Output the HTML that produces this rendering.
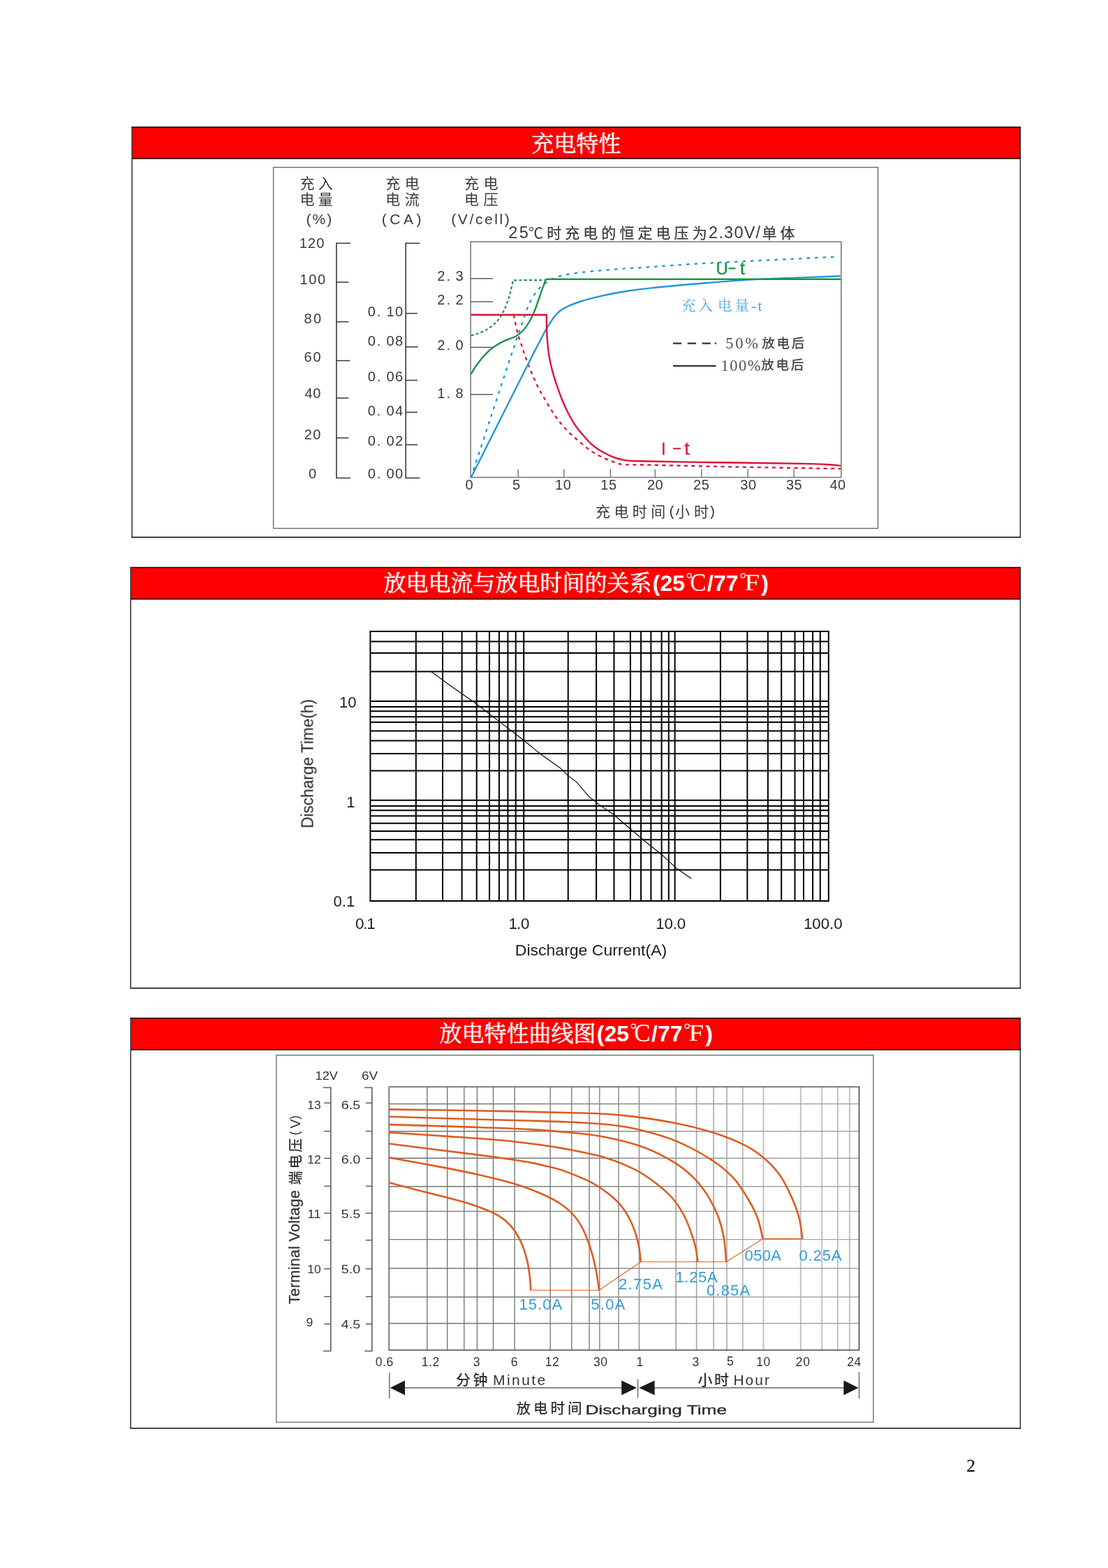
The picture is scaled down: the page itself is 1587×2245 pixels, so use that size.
<!DOCTYPE html>
<html lang="en"><head><meta charset="utf-8"><title>Battery characteristics</title>
<style>html,body{margin:0;padding:0;background:#fff}body{width:1587px;height:2245px;overflow:hidden}svg{display:block;font-family:"Liberation Sans",sans-serif}text{white-space:pre}.cjs{font-family:"Liberation Sans","Noto Sans CJK SC",sans-serif}.cjf{font-family:"Liberation Serif","Noto Serif CJK SC",serif}</style></head>
<body>
<svg width="1587" height="2245" viewBox="0 0 1587 2245">
<defs><filter id="soft" x="0" y="0" width="100%" height="100%" filterUnits="userSpaceOnUse" color-interpolation-filters="sRGB"><feGaussianBlur stdDeviation="0.45"/></filter></defs>
<rect x="189.1" y="182.1" width="1272.3" height="45" fill="#fe0000"/>
<path d="M189.1 182.1V769.3M1461.4 182.1V769.3" fill="none" stroke="#2e2e2e" stroke-width="1.5"/>
<path d="M188.35 182.1H1462.15M188.35 769.3H1462.15M189.1 227.1H1461.4" fill="none" stroke="#0a0a0a" stroke-width="1.5"/>
<rect x="187.2" y="812.4" width="1274.2" height="45.3" fill="#fe0000"/>
<path d="M187.2 812.4V1414.7M1461.4 812.4V1414.7" fill="none" stroke="#2e2e2e" stroke-width="1.5"/>
<path d="M186.45 812.4H1462.15M186.45 1414.7H1462.15M187.2 857.7H1461.4" fill="none" stroke="#0a0a0a" stroke-width="1.5"/>
<rect x="187.2" y="1457.7" width="1274.2" height="45.3" fill="#fe0000"/>
<path d="M187.2 1457.7V2045M1461.4 1457.7V2045" fill="none" stroke="#2e2e2e" stroke-width="1.5"/>
<path d="M186.45 1457.7H1462.15M186.45 2045H1462.15M187.2 1503H1461.4" fill="none" stroke="#0a0a0a" stroke-width="1.5"/>
<text class="cjf" x="761.2" y="217" font-size="32" fill="#fff" stroke="#fff" stroke-width="0.5">充电特性</text>
<text class="cjf" x="549.6" y="845.8" font-size="32" fill="#fff" stroke="#fff" stroke-width="0.5">放电电流与放电时间的关系</text>
<text x="934.8" y="845.8" font-size="32" fill="#fff" font-weight="bold">(25</text>
<circle cx="987.26" cy="824.2" r="3" fill="none" stroke="#fff" stroke-width="1.3"/>
<text x="988.26" y="846.1" font-size="35" fill="#fff" style="font-family:'Liberation Serif',serif">C</text>
<text x="1013.06" y="845.8" font-size="32" fill="#fff" font-weight="bold">/77</text>
<circle cx="1064.16" cy="824.2" r="3" fill="none" stroke="#fff" stroke-width="1.3"/>
<text x="1066.16" y="845.2" font-size="34.5" fill="#fff" style="font-family:'Liberation Serif',serif" textLength="22" lengthAdjust="spacingAndGlyphs">F</text>
<text x="1090.36" y="845.8" font-size="32" fill="#fff" font-weight="bold">)</text>
<text class="cjf" x="629.6" y="1490.8" font-size="32" fill="#fff" stroke="#fff" stroke-width="0.5">放电特性曲线图</text>
<text x="854.8" y="1490.8" font-size="32" fill="#fff" font-weight="bold">(25</text>
<circle cx="907.26" cy="1469.2" r="3" fill="none" stroke="#fff" stroke-width="1.3"/>
<text x="908.26" y="1491.1" font-size="35" fill="#fff" style="font-family:'Liberation Serif',serif">C</text>
<text x="933.06" y="1490.8" font-size="32" fill="#fff" font-weight="bold">/77</text>
<circle cx="984.16" cy="1469.2" r="3" fill="none" stroke="#fff" stroke-width="1.3"/>
<text x="986.16" y="1490.2" font-size="34.5" fill="#fff" style="font-family:'Liberation Serif',serif" textLength="22" lengthAdjust="spacingAndGlyphs">F</text>
<text x="1010.36" y="1490.8" font-size="32" fill="#fff" font-weight="bold">)</text>
<text x="1384.3" y="2107.1" font-size="25.4" fill="#000" style="font-family:'Liberation Serif',serif">2</text>
<g filter="url(#soft)">
<rect x="391.6" y="239.6" width="865.9" height="516.9" fill="none" stroke="#6a6a6a" stroke-width="1.4"/>
<text class="cjs" x="429.5" y="269.6" font-size="21" fill="#3a3a3a" letter-spacing="5.2">充入</text>
<text class="cjs" x="429.5" y="293" font-size="21" fill="#3a3a3a" letter-spacing="5.2">电量</text>
<text x="438.5" y="320.6" font-size="21" fill="#3a3a3a" textLength="36.8" lengthAdjust="spacing">(%)</text>
<text class="cjs" x="552.3" y="269.6" font-size="21" fill="#3a3a3a" letter-spacing="6.5">充电</text>
<text class="cjs" x="552.3" y="293" font-size="21" fill="#3a3a3a" letter-spacing="6.5">电流</text>
<text x="546.7" y="320.6" font-size="21" fill="#3a3a3a" textLength="56.7" lengthAdjust="spacing">(CA)</text>
<text class="cjs" x="665" y="269.6" font-size="21" fill="#3a3a3a" letter-spacing="6.5">充电</text>
<text class="cjs" x="665" y="293" font-size="21" fill="#3a3a3a" letter-spacing="6.5">电压</text>
<text x="646.3" y="320.6" font-size="21" fill="#3a3a3a" textLength="83.4" lengthAdjust="spacing">(V/cell)</text>
<text x="728.3" y="341.4" font-size="23.5" fill="#3a3a3a" textLength="28.6" lengthAdjust="spacing">25</text>
<text class="cjs" x="757" y="340.8" font-size="21" fill="#3a3a3a">℃</text>
<text class="cjs" x="783.2" y="340.8" font-size="21" fill="#3a3a3a" stroke="#3a3a3a" stroke-width="0.25" letter-spacing="5.06">时充电的恒定电压为</text>
<text x="1015.1" y="341.4" font-size="23.5" fill="#3a3a3a" textLength="74" lengthAdjust="spacing">2.30V/</text>
<text class="cjs" x="1091.6" y="340.8" font-size="21" fill="#3a3a3a" stroke="#3a3a3a" stroke-width="0.25" letter-spacing="4.8">单体</text>
<line x1="481.9" y1="347.6" x2="481.9" y2="685.1" stroke="#383838" stroke-width="1.6"/>
<line x1="481.9" y1="348.3" x2="501.9" y2="348.3" stroke="#383838" stroke-width="1.5"/>
<line x1="481.9" y1="404" x2="499.3" y2="404" stroke="#383838" stroke-width="1.5"/>
<line x1="481.9" y1="460.7" x2="499.3" y2="460.7" stroke="#383838" stroke-width="1.5"/>
<line x1="481.9" y1="516.4" x2="501" y2="516.4" stroke="#383838" stroke-width="1.5"/>
<line x1="481.9" y1="569.9" x2="499.3" y2="569.9" stroke="#383838" stroke-width="1.5"/>
<line x1="481.9" y1="627" x2="499.3" y2="627" stroke="#383838" stroke-width="1.5"/>
<line x1="481.9" y1="684.4" x2="501.9" y2="684.4" stroke="#383838" stroke-width="1.5"/>
<text x="428.7" y="354.6" font-size="20" fill="#3a3a3a" textLength="35.7" lengthAdjust="spacing">120</text>
<text x="429.6" y="407.4" font-size="20" fill="#3a3a3a" textLength="36.5" lengthAdjust="spacing">100</text>
<text x="435.5" y="462.7" font-size="20" fill="#3a3a3a" textLength="24.7" lengthAdjust="spacing">80</text>
<text x="435.5" y="518" font-size="20" fill="#3a3a3a" textLength="24" lengthAdjust="spacing">60</text>
<text x="436.4" y="570.4" font-size="20" fill="#3a3a3a" textLength="22.9" lengthAdjust="spacing">40</text>
<text x="435.8" y="629.1" font-size="20" fill="#3a3a3a" textLength="23.5" lengthAdjust="spacing">20</text>
<text x="442" y="685.2" font-size="20" fill="#3a3a3a">0</text>
<line x1="581.2" y1="347.6" x2="581.2" y2="685.1" stroke="#383838" stroke-width="1.6"/>
<line x1="581.2" y1="348.3" x2="601.4" y2="348.3" stroke="#383838" stroke-width="1.5"/>
<line x1="581.2" y1="448.7" x2="598" y2="448.7" stroke="#383838" stroke-width="1.5"/>
<line x1="581.2" y1="496.7" x2="598.8" y2="496.7" stroke="#383838" stroke-width="1.5"/>
<line x1="581.2" y1="544.5" x2="598" y2="544.5" stroke="#383838" stroke-width="1.5"/>
<line x1="581.2" y1="590.3" x2="598" y2="590.3" stroke="#383838" stroke-width="1.5"/>
<line x1="581.2" y1="636.7" x2="598" y2="636.7" stroke="#383838" stroke-width="1.5"/>
<line x1="581.2" y1="684.4" x2="601.4" y2="684.4" stroke="#383838" stroke-width="1.5"/>
<text x="526.8" y="452.5" font-size="20" fill="#3a3a3a">0</text>
<text x="539.8" y="452.5" font-size="20" fill="#3a3a3a">.</text>
<text x="553.4" y="452.5" font-size="20" fill="#3a3a3a" letter-spacing="1.5">10</text>
<text x="526.8" y="495" font-size="20" fill="#3a3a3a">0</text>
<text x="539.8" y="495" font-size="20" fill="#3a3a3a">.</text>
<text x="553.4" y="495" font-size="20" fill="#3a3a3a" letter-spacing="1.5">08</text>
<text x="526.8" y="546.1" font-size="20" fill="#3a3a3a">0</text>
<text x="539.8" y="546.1" font-size="20" fill="#3a3a3a">.</text>
<text x="553.4" y="546.1" font-size="20" fill="#3a3a3a" letter-spacing="1.5">06</text>
<text x="526.8" y="594.7" font-size="20" fill="#3a3a3a">0</text>
<text x="539.8" y="594.7" font-size="20" fill="#3a3a3a">.</text>
<text x="553.4" y="594.7" font-size="20" fill="#3a3a3a" letter-spacing="1.5">04</text>
<text x="526.8" y="637.9" font-size="20" fill="#3a3a3a">0</text>
<text x="539.8" y="637.9" font-size="20" fill="#3a3a3a">.</text>
<text x="553.4" y="637.9" font-size="20" fill="#3a3a3a" letter-spacing="1.5">02</text>
<text x="526.8" y="685.2" font-size="20" fill="#3a3a3a">0</text>
<text x="539.8" y="685.2" font-size="20" fill="#3a3a3a">.</text>
<text x="553.4" y="685.2" font-size="20" fill="#3a3a3a" letter-spacing="1.5">00</text>
<text x="626.3" y="402.3" font-size="20" fill="#3a3a3a">2</text>
<text x="639.5" y="402.3" font-size="20" fill="#3a3a3a">.</text>
<text x="652.6" y="402.3" font-size="20" fill="#3a3a3a">3</text>
<text x="626.3" y="436.3" font-size="20" fill="#3a3a3a">2</text>
<text x="639.5" y="436.3" font-size="20" fill="#3a3a3a">.</text>
<text x="652.6" y="436.3" font-size="20" fill="#3a3a3a">2</text>
<text x="626.3" y="501" font-size="20" fill="#3a3a3a">2</text>
<text x="639.5" y="501" font-size="20" fill="#3a3a3a">.</text>
<text x="652.6" y="501" font-size="20" fill="#3a3a3a">0</text>
<text x="626.3" y="569.9" font-size="20" fill="#3a3a3a">1</text>
<text x="639.5" y="569.9" font-size="20" fill="#3a3a3a">.</text>
<text x="652.6" y="569.9" font-size="20" fill="#3a3a3a">8</text>
<rect x="674.1" y="346.1" width="530.7" height="337.4" fill="none" stroke="#7c7c7c" stroke-width="1.6"/>
<line x1="674.1" y1="398.8" x2="706" y2="398.8" stroke="#555" stroke-width="1.4"/>
<line x1="674.1" y1="432" x2="706" y2="432" stroke="#555" stroke-width="1.4"/>
<line x1="674.1" y1="497.3" x2="706" y2="497.3" stroke="#555" stroke-width="1.4"/>
<line x1="674.1" y1="564.8" x2="706" y2="564.8" stroke="#555" stroke-width="1.4"/>
<line x1="742.2" y1="671.8" x2="742.2" y2="683.5" stroke="#7c7c7c" stroke-width="1.5"/>
<line x1="807.7" y1="671.8" x2="807.7" y2="683.5" stroke="#7c7c7c" stroke-width="1.5"/>
<line x1="874.4" y1="671.8" x2="874.4" y2="683.5" stroke="#7c7c7c" stroke-width="1.5"/>
<line x1="938.3" y1="671.8" x2="938.3" y2="683.5" stroke="#7c7c7c" stroke-width="1.5"/>
<line x1="1004.9" y1="671.8" x2="1004.9" y2="683.5" stroke="#7c7c7c" stroke-width="1.5"/>
<line x1="1071.1" y1="671.8" x2="1071.1" y2="683.5" stroke="#7c7c7c" stroke-width="1.5"/>
<line x1="1137.2" y1="671.8" x2="1137.2" y2="683.5" stroke="#7c7c7c" stroke-width="1.5"/>
<text x="672" y="701.2" font-size="20" fill="#3a3a3a" text-anchor="middle">0</text>
<text x="739.6" y="701.2" font-size="20" fill="#3a3a3a" text-anchor="middle">5</text>
<text x="795" y="701.2" font-size="20" fill="#3a3a3a" textLength="22.8" lengthAdjust="spacing">10</text>
<text x="860.2" y="701.2" font-size="20" fill="#3a3a3a" textLength="22.8" lengthAdjust="spacing">15</text>
<text x="926.9" y="701.2" font-size="20" fill="#3a3a3a" textLength="22.8" lengthAdjust="spacing">20</text>
<text x="993" y="701.2" font-size="20" fill="#3a3a3a" textLength="22.8" lengthAdjust="spacing">25</text>
<text x="1060.2" y="701.2" font-size="20" fill="#3a3a3a" textLength="22.8" lengthAdjust="spacing">30</text>
<text x="1125.9" y="701.2" font-size="20" fill="#3a3a3a" textLength="22.8" lengthAdjust="spacing">35</text>
<text x="1188.4" y="701.2" font-size="20" fill="#3a3a3a" textLength="22.8" lengthAdjust="spacing">40</text>
<text class="cjs" x="853" y="739.6" font-size="21" fill="#3a3a3a" letter-spacing="5.4">充电时间</text>
<text x="958.4" y="738.6" font-size="21" fill="#3a3a3a">(</text>
<text class="cjs" x="967" y="739.6" font-size="21" fill="#3a3a3a" letter-spacing="6">小时</text>
<text x="1017" y="738.6" font-size="21" fill="#3a3a3a">)</text>
<path d="M674.5 684C679.17 669.83 693.15 627.43 702.5 599C711.85 570.57 724.35 532.23 730.6 513.4C736.85 494.57 736.73 495.57 740 486C743.27 476.43 747.08 464.75 750.2 456C753.32 447.25 755.58 440.05 758.7 433.5C761.82 426.95 765.5 421.12 768.9 416.7C772.3 412.28 775.7 409.73 779.1 407C782.5 404.27 785.05 402.38 789.3 400.3C793.55 398.22 797.8 396.17 804.6 394.5C811.4 392.83 820.17 391.57 830.1 390.3C840.03 389.03 852.85 387.9 864.2 386.9C875.55 385.9 887.23 385.07 898.2 384.3C909.17 383.53 913.35 383.42 930 382.3C946.65 381.18 973.72 379.03 998.1 377.6C1022.48 376.17 1050.25 375 1076.3 373.7C1102.35 372.4 1134.45 370.78 1154.4 369.8C1174.35 368.82 1189.07 368.13 1196 367.8" fill="none" stroke="#1f97da" stroke-width="2.3" stroke-dasharray="4.5 7"/>
<path d="M735.7 450.7C736.7 455.23 739.57 469.97 741.7 477.9C743.83 485.83 746.67 492.67 748.5 498.3C750.33 503.93 750.43 505.5 752.7 511.7C754.97 517.9 759.12 528.42 762.1 535.5C765.08 542.58 767.77 548.53 770.6 554.2C773.43 559.87 774.85 562.4 779.1 569.5C783.35 576.6 790.43 588.85 796.1 596.8C801.77 604.75 807.43 611.25 813.1 617.2C818.77 623.15 824.43 627.68 830.1 632.5C835.77 637.32 841.42 642.27 847.1 646.1C852.78 649.93 858.52 652.8 864.2 655.5C869.88 658.2 876.1 660.68 881.2 662.3C886.3 663.92 886.67 664.63 894.8 665.2C902.93 665.77 903.75 665.15 930 665.7C956.25 666.25 1006.63 667.6 1052.3 668.5C1097.97 669.4 1178.72 670.67 1204 671.1" fill="none" stroke="#dc1236" stroke-width="2.3" stroke-dasharray="5 5.5"/>
<path d="M674.8 480.5C678 479.37 687.97 476.97 694 473.7C700.03 470.43 706.47 465.58 711 460.9C715.53 456.22 718.08 451.83 721.2 445.6C724.32 439.37 727.42 430.88 729.7 423.5C731.98 416.12 734.03 405 734.9 401.3L781.6 401" fill="none" stroke="#1c9448" stroke-width="2.2" stroke-dasharray="4 3.2"/>
<path d="M674.5 684C681.8 669.5 703.7 626 718.3 597C732.9 568 753.07 527.83 762.1 510C771.13 492.17 769.1 496.48 772.5 490C775.9 483.52 778.57 477.65 782.5 471.1C786.43 464.55 791.85 455.67 796.1 450.7C800.35 445.73 802.33 444.42 808 441.3C813.67 438.18 820.73 435.03 830.1 432C839.47 428.97 852.85 425.65 864.2 423.1C875.55 420.55 887.23 418.45 898.2 416.7C909.17 414.95 913.35 414.33 930 412.6C946.65 410.87 973.72 408.33 998.1 406.3C1022.48 404.27 1050.25 401.93 1076.3 400.4C1102.35 398.87 1133.2 397.97 1154.4 397.1C1175.6 396.23 1195.32 395.52 1203.5 395.2" fill="none" stroke="#1f97da" stroke-width="2.4"/>
<path d="M674.8 535.5C676.08 533.42 679.12 527.7 682.5 523C685.88 518.3 690.9 511.72 695.1 507.3C699.3 502.88 702.98 499.77 707.7 496.5C712.42 493.23 718.15 490.25 723.4 487.7C728.65 485.15 734.93 483.57 739.2 481.2C743.47 478.83 746.03 476.62 749 473.5C751.97 470.38 754.25 467.15 757 462.5C759.75 457.85 762.38 453.23 765.5 445.6C768.62 437.97 773.02 424.22 775.7 416.7C778.38 409.18 780.62 403.2 781.6 400.5L783 399.7L1204.2 399.7" fill="none" stroke="#1c9448" stroke-width="2.4"/>
<path d="M674.8 450.7L782.8 450.7C782.83 453.58 782.8 461.78 783 468C783.2 474.22 783.43 481.17 784 488C784.57 494.83 785.23 501.93 786.4 509C787.57 516.07 789.38 524 791 530.4C792.62 536.8 793.83 540.6 796.1 547.4C798.37 554.2 801.77 564.1 804.6 571.2C807.43 578.3 810.27 584.32 813.1 590C815.93 595.68 818.77 600.77 821.6 605.3C824.43 609.83 825.85 612.1 830.1 617.2C834.35 622.3 841.42 630.8 847.1 635.9C852.78 641 858.52 644.53 864.2 647.8C869.88 651.07 875.53 653.57 881.2 655.5C886.87 657.43 891.73 658.62 898.2 659.4C904.67 660.18 901.7 659.78 920 660.2C938.3 660.62 978.6 661.43 1008 661.9C1037.4 662.37 1070.63 662.63 1096.4 663C1122.17 663.37 1147.88 663.77 1162.6 664.1C1177.32 664.43 1177.8 664.57 1184.7 665C1191.6 665.43 1200.78 666.42 1204 666.7" fill="none" stroke="#dc1236" stroke-width="2.4"/>
<text x="1025.5" y="392.6" font-size="24" fill="#1c9448" stroke="#1c9448" stroke-width="0.4">U</text>
<line x1="1043.5" y1="384.3" x2="1053.5" y2="384.3" stroke="#1c9448" stroke-width="2.2"/>
<text x="1060" y="392.6" font-size="25" fill="#1c9448" stroke="#1c9448" stroke-width="0.5">t</text>
<text x="947" y="650.9" font-size="24" fill="#dc1236" stroke="#dc1236" stroke-width="0.3">I</text>
<line x1="964" y1="642.3" x2="975" y2="642.3" stroke="#dc1236" stroke-width="2"/>
<text x="980.5" y="650.9" font-size="25" fill="#dc1236" stroke="#dc1236" stroke-width="0.4">t</text>
<text class="cjf" x="976" y="444.6" font-size="20.5" fill="#4ea9df" letter-spacing="4.1">充入</text>
<text class="cjf" x="1028" y="444.6" font-size="20.5" fill="#4ea9df" letter-spacing="4.1">电量</text>
<text x="1076" y="444.6" font-size="22" fill="#4ea9df" style="font-family:'Liberation Serif',serif" textLength="15.5" lengthAdjust="spacing">-t</text>
<path d="M964 491.6h12.2m8.6 0h12.2m8.6 0h12.2m6 0h2.4" fill="none" stroke="#333" stroke-width="2.3"/>
<line x1="964" y1="523.9" x2="1025.5" y2="523.9" stroke="#333" stroke-width="2.3"/>
<text x="1039.2" y="499.4" font-size="22.5" fill="#505050" style="font-family:'Liberation Serif',serif" textLength="46.8" lengthAdjust="spacing">50%</text>
<text x="1032.6" y="530.6" font-size="22.5" fill="#505050" style="font-family:'Liberation Serif',serif" textLength="57" lengthAdjust="spacing">100%</text>
<text class="cjs" x="1091.3" y="498.3" font-size="18.5" fill="#444" font-weight="500" letter-spacing="2.7">放电后</text>
<text class="cjs" x="1090.3" y="529.4" font-size="18.5" fill="#444" font-weight="500" letter-spacing="2.7">放电后</text>
</g>
<path d="M530.4 903.1V1291.1M595.8 903.1V1291.1M634 903.1V1291.1M661.6 903.1V1291.1M682.7 903.1V1291.1M701 903.1V1291.1M714.9 903.1V1291.1M727.4 903.1V1291.1M738.7 903.1V1291.1M750.2 903.1V1291.1M813.7 903.1V1291.1M854.1 903.1V1291.1M879.5 903.1V1291.1M902.9 903.1V1291.1M918.1 903.1V1291.1M932.4 903.1V1291.1M947.6 903.1V1291.1M957.8 903.1V1291.1M966.6 903.1V1291.1M1031.9 903.1V1291.1M1070.4 903.1V1291.1M1099.9 903.1V1291.1M1119.2 903.1V1291.1M1138.5 903.1V1291.1M1151 903.1V1291.1M1164.1 903.1V1291.1M1174.8 903.1V1291.1M1186.8 903.1V1291.1M529.4 904.1H1187.8M529.4 918.4H1187.8M529.4 934.9H1187.8M529.4 961.5H1187.8M529.4 1003.9H1187.8M529.4 1011.9H1187.8M529.4 1018.2H1187.8M529.4 1026.2H1187.8M529.4 1034.1H1187.8M529.4 1046.5H1187.8M529.4 1060.6H1187.8M529.4 1079.1H1187.8M529.4 1103.4H1187.8M529.4 1145.8H1187.8M529.4 1153.9H1187.8M529.4 1160.2H1187.8M529.4 1168.2H1187.8M529.4 1178.7H1187.8M529.4 1190.1H1187.8M529.4 1202.3H1187.8M529.4 1221.1H1187.8M529.4 1245.4H1187.8M529.4 1290.1H1187.8" fill="none" stroke="#000" stroke-width="2"/>
<path d="M617.4 961.5L646.9 983L680.9 1006.8L714.9 1032.9L749 1059L774.7 1080L802.6 1099.7L814.1 1111.1L825.5 1119.3L843.6 1140.6L858.3 1152.1L879.6 1166.8L902.5 1186.5L923.8 1204.5L948.4 1224.2L969.7 1243.8L990.2 1257.8" fill="none" stroke="#000" stroke-width="1.1"/>
<g filter="url(#soft)">
<text x="510.4" y="1013.2" font-size="22" fill="#1c1c1c" text-anchor="end">10</text>
<text x="508.6" y="1155.8" font-size="22" fill="#1c1c1c" text-anchor="end">1</text>
<text x="508.2" y="1297.9" font-size="22" fill="#1c1c1c" text-anchor="end">0.1</text>
<text x="509" y="1330.2" font-size="22.3" fill="#1c1c1c" textLength="28.6" lengthAdjust="spacing">0.1</text>
<text x="728.4" y="1330.2" font-size="22.3" fill="#1c1c1c" textLength="30" lengthAdjust="spacing">1.0</text>
<text x="939.2" y="1330.2" font-size="22.3" fill="#1c1c1c" textLength="43" lengthAdjust="spacing">10.0</text>
<text x="1151" y="1330.2" font-size="22.3" fill="#1c1c1c" textLength="55.6" lengthAdjust="spacing">100.0</text>
<text x="737.8" y="1368.3" font-size="22" fill="#1c1c1c" textLength="217.4" lengthAdjust="spacingAndGlyphs">Discharge Current(A)</text>
<text x="448.4" y="1185.9" font-size="23" fill="#1c1c1c" textLength="184.8" lengthAdjust="spacingAndGlyphs" transform="rotate(-90 448.4 1185.9)">Discharge Time(h)</text>
</g>
<g filter="url(#soft)">
<rect x="395.8" y="1510.8" width="855.1" height="525.6" fill="none" stroke="#7a7a7a" stroke-width="1.5"/>
<line x1="473.8" y1="1556.5" x2="473.8" y2="1935" stroke="#555" stroke-width="1.5"/>
<line x1="462.8" y1="1557.2" x2="473.8" y2="1557.2" stroke="#555" stroke-width="1.4"/>
<line x1="462.8" y1="1934.4" x2="473.8" y2="1934.4" stroke="#555" stroke-width="1.4"/>
<line x1="464.2" y1="1579.2" x2="473.8" y2="1579.2" stroke="#555" stroke-width="1.4"/>
<line x1="464.2" y1="1619.6" x2="473.8" y2="1619.6" stroke="#555" stroke-width="1.4"/>
<line x1="464.2" y1="1658.4" x2="473.8" y2="1658.4" stroke="#555" stroke-width="1.4"/>
<line x1="464.2" y1="1698.3" x2="473.8" y2="1698.3" stroke="#555" stroke-width="1.4"/>
<line x1="464.2" y1="1737" x2="473.8" y2="1737" stroke="#555" stroke-width="1.4"/>
<line x1="464.2" y1="1775.6" x2="473.8" y2="1775.6" stroke="#555" stroke-width="1.4"/>
<line x1="464.2" y1="1816.7" x2="473.8" y2="1816.7" stroke="#555" stroke-width="1.4"/>
<line x1="464.2" y1="1856.5" x2="473.8" y2="1856.5" stroke="#555" stroke-width="1.4"/>
<line x1="464.2" y1="1895.7" x2="473.8" y2="1895.7" stroke="#555" stroke-width="1.4"/>
<line x1="532.8" y1="1556.5" x2="532.8" y2="1935" stroke="#555" stroke-width="1.5"/>
<line x1="522.2" y1="1557.2" x2="532.8" y2="1557.2" stroke="#555" stroke-width="1.4"/>
<line x1="522.2" y1="1934.4" x2="532.8" y2="1934.4" stroke="#555" stroke-width="1.4"/>
<line x1="523.8" y1="1579.2" x2="532.8" y2="1579.2" stroke="#555" stroke-width="1.4"/>
<line x1="523.8" y1="1619.6" x2="532.8" y2="1619.6" stroke="#555" stroke-width="1.4"/>
<line x1="523.8" y1="1658.4" x2="532.8" y2="1658.4" stroke="#555" stroke-width="1.4"/>
<line x1="523.8" y1="1698.3" x2="532.8" y2="1698.3" stroke="#555" stroke-width="1.4"/>
<line x1="523.8" y1="1737" x2="532.8" y2="1737" stroke="#555" stroke-width="1.4"/>
<line x1="523.8" y1="1775.6" x2="532.8" y2="1775.6" stroke="#555" stroke-width="1.4"/>
<line x1="523.8" y1="1816.7" x2="532.8" y2="1816.7" stroke="#555" stroke-width="1.4"/>
<line x1="523.8" y1="1856.5" x2="532.8" y2="1856.5" stroke="#555" stroke-width="1.4"/>
<line x1="523.8" y1="1895.7" x2="532.8" y2="1895.7" stroke="#555" stroke-width="1.4"/>
<text x="451.6" y="1546.3" font-size="16.4" fill="#333" textLength="32.2" lengthAdjust="spacingAndGlyphs">12V</text>
<text x="518" y="1546.3" font-size="16.4" fill="#333" textLength="23.2" lengthAdjust="spacingAndGlyphs">6V</text>
<text x="440.2" y="1587.9" font-size="16.4" fill="#333" textLength="19.4" lengthAdjust="spacingAndGlyphs">13</text>
<text x="440.2" y="1665.7" font-size="16.4" fill="#333" textLength="19.4" lengthAdjust="spacingAndGlyphs">12</text>
<text x="440.2" y="1744" font-size="16.4" fill="#333" textLength="19.4" lengthAdjust="spacingAndGlyphs">11</text>
<text x="440.2" y="1823.2" font-size="16.4" fill="#333" textLength="19.4" lengthAdjust="spacingAndGlyphs">10</text>
<text x="438.4" y="1899" font-size="16.4" fill="#333" textLength="9.8" lengthAdjust="spacingAndGlyphs">9</text>
<text x="488.8" y="1587.9" font-size="16.4" fill="#333" textLength="27.4" lengthAdjust="spacingAndGlyphs">6.5</text>
<text x="488.8" y="1665.7" font-size="16.4" fill="#333" textLength="27.4" lengthAdjust="spacingAndGlyphs">6.0</text>
<text x="488.8" y="1744" font-size="16.4" fill="#333" textLength="27.4" lengthAdjust="spacingAndGlyphs">5.5</text>
<text x="488.8" y="1823.2" font-size="16.4" fill="#333" textLength="27.4" lengthAdjust="spacingAndGlyphs">5.0</text>
<text x="488.8" y="1901.6" font-size="16.4" fill="#333" textLength="27.4" lengthAdjust="spacingAndGlyphs">4.5</text>
<text x="428.6" y="1867.2" font-size="21.5" fill="#333" textLength="163.2" lengthAdjust="spacing" transform="rotate(-90 428.6 1867.2)" stroke="#333" stroke-width="0.25">Terminal Voltage</text>
<g transform="translate(430.8 1696.6) rotate(-90)">
<text class="cjs" x="0" y="0" font-size="20" fill="#333" font-weight="500" letter-spacing="3.4">端电压</text>
</g>
<text x="428" y="1625.6" font-size="18" fill="#333" transform="rotate(-90 428 1625.6)">(</text>
<text x="430.2" y="1615.4" font-size="19.5" fill="#333" transform="rotate(-90 430.2 1615.4)">V</text>
<text x="428" y="1602.8" font-size="18" fill="#333" transform="rotate(-90 428 1602.8)">)</text>
<line x1="611.8" y1="1556.1" x2="611.8" y2="1933" stroke="#6e6e6e" stroke-width="1.3"/>
<line x1="640.7" y1="1556.1" x2="640.7" y2="1933" stroke="#6e6e6e" stroke-width="1.3"/>
<line x1="664.8" y1="1556.1" x2="664.8" y2="1933" stroke="#6e6e6e" stroke-width="1.3"/>
<line x1="683.4" y1="1556.1" x2="683.4" y2="1933" stroke="#6e6e6e" stroke-width="1.3"/>
<line x1="706.5" y1="1556.1" x2="706.5" y2="1933" stroke="#6e6e6e" stroke-width="1.3"/>
<line x1="737.1" y1="1556.1" x2="737.1" y2="1933" stroke="#717171" stroke-width="1.32"/>
<line x1="788.2" y1="1556.1" x2="788.2" y2="1933" stroke="#7c7c7c" stroke-width="1.42"/>
<line x1="818.8" y1="1556.1" x2="818.8" y2="1933" stroke="#838383" stroke-width="1.48"/>
<line x1="844" y1="1556.1" x2="844" y2="1933" stroke="#898989" stroke-width="1.52"/>
<line x1="858.8" y1="1556.1" x2="858.8" y2="1933" stroke="#8c8c8c" stroke-width="1.55"/>
<line x1="886" y1="1556.1" x2="886" y2="1933" stroke="#929292" stroke-width="1.6"/>
<line x1="915.5" y1="1556.1" x2="915.5" y2="1933" stroke="#999999" stroke-width="1.66"/>
<line x1="968.2" y1="1556.1" x2="968.2" y2="1933" stroke="#a5a5a5" stroke-width="1.76"/>
<line x1="997.7" y1="1556.1" x2="997.7" y2="1933" stroke="#acacac" stroke-width="1.81"/>
<line x1="1022.1" y1="1556.1" x2="1022.1" y2="1933" stroke="#b1b1b1" stroke-width="1.86"/>
<line x1="1041.1" y1="1556.1" x2="1041.1" y2="1933" stroke="#b6b6b6" stroke-width="1.9"/>
<line x1="1063.8" y1="1556.1" x2="1063.8" y2="1933" stroke="#bbbbbb" stroke-width="1.94"/>
<line x1="1093.5" y1="1556.1" x2="1093.5" y2="1933" stroke="#c1c1c1" stroke-width="2"/>
<line x1="1146.8" y1="1556.1" x2="1146.8" y2="1933" stroke="#c2c2c2" stroke-width="2"/>
<line x1="1177.2" y1="1556.1" x2="1177.2" y2="1933" stroke="#c2c2c2" stroke-width="2"/>
<line x1="1199.9" y1="1556.1" x2="1199.9" y2="1933" stroke="#c2c2c2" stroke-width="2"/>
<line x1="1216.9" y1="1556.1" x2="1216.9" y2="1933" stroke="#c2c2c2" stroke-width="2"/>
<linearGradient id="gh" gradientUnits="userSpaceOnUse" x1="557" y1="0" x2="1230" y2="0"><stop offset="0.2" stop-color="#737373"/><stop offset="0.85" stop-color="#a6a6a6"/></linearGradient>
<path d="M557.2 1580.5H1230.5M557.2 1619.8H1230.5M557.2 1658.3H1230.5M557.2 1698.7H1230.5M557.2 1734.4H1230.5M557.2 1774.6H1230.5M557.2 1816H1230.5M557.2 1857H1230.5M557.2 1894.7H1230.5" fill="none" stroke="url(#gh)" stroke-width="1.4"/>
<path d="M557.2 1556.1H1230.5M557.2 1556.1V1933" fill="none" stroke="#707070" stroke-width="1.7"/>
<path d="M556.4 1933H1230.5V1555.3" fill="none" stroke="#4c4c4c" stroke-width="1.6"/>
<path d="M557.4 1588.4C578.03 1588.7 639.1 1589.43 681.2 1590.2C723.3 1590.97 775.78 1591.97 810 1593C844.22 1594.03 860.52 1593.95 886.5 1596.4C912.48 1598.85 943.22 1603.45 965.9 1607.7C988.58 1611.95 1006.05 1616.7 1022.6 1621.9C1039.15 1627.1 1053.38 1632.98 1065.2 1638.9C1077.02 1644.82 1085 1650.3 1093.5 1657.4C1102 1664.5 1109.58 1672.3 1116.2 1681.5C1122.82 1690.7 1128.47 1702.22 1133.2 1712.6C1137.93 1722.98 1141.9 1733.63 1144.6 1743.8C1147.3 1753.97 1148.6 1768.63 1149.4 1773.6" fill="none" stroke="#de5c20" stroke-width="2.6"/>
<path d="M557.4 1598.8C578.03 1599.42 639.1 1601.25 681.2 1602.5C723.3 1603.75 775.78 1604.72 810 1606.3C844.22 1607.88 865.23 1609.17 886.5 1612C907.77 1614.83 922 1618.82 937.6 1623.3C953.2 1627.78 965.93 1632.28 980.1 1638.9C994.27 1645.52 1010.78 1654.97 1022.6 1663C1034.42 1671.03 1042.97 1678.35 1051 1687.1C1059.03 1695.85 1065.13 1706.05 1070.8 1715.5C1076.47 1724.95 1081.35 1734.12 1085 1743.8C1088.65 1753.48 1091.42 1768.63 1092.7 1773.6" fill="none" stroke="#de5c20" stroke-width="2.6"/>
<path d="M557.4 1610.1C578.03 1610.73 647.97 1612.77 681.2 1613.9C714.43 1615.03 735.33 1615.73 756.8 1616.9C778.27 1618.07 791.68 1619.05 810 1620.9C828.32 1622.75 847.8 1624.28 866.7 1628C885.6 1631.72 906.87 1637.13 923.4 1643.2C939.93 1649.27 954.08 1657.08 965.9 1664.4C977.72 1671.72 986.27 1679.07 994.3 1687.1C1002.33 1695.13 1008.43 1703.62 1014.1 1712.6C1019.77 1721.58 1024.52 1731.07 1028.3 1741C1032.08 1750.93 1034.82 1761.23 1036.8 1772.2C1038.78 1783.17 1039.63 1801.03 1040.2 1806.8" fill="none" stroke="#de5c20" stroke-width="2.6"/>
<path d="M557.4 1621.4C571.73 1622.35 616.47 1625.2 643.4 1627.1C670.33 1629 696.95 1630.75 719 1632.8C741.05 1634.85 760.53 1637.38 775.7 1639.4C790.87 1641.42 794.83 1641.9 810 1644.9C825.17 1647.9 850.17 1652.48 866.7 1657.4C883.23 1662.32 897.38 1668.5 909.2 1674.4C921.02 1680.3 928.62 1685.95 937.6 1692.8C946.58 1699.65 956.02 1707.47 963.1 1715.5C970.18 1723.53 975.37 1732.03 980.1 1741C984.83 1749.97 988.67 1761.13 991.5 1769.3C994.33 1777.47 995.78 1783.75 997.1 1790C998.42 1796.25 999.02 1804 999.4 1806.8" fill="none" stroke="#de5c20" stroke-width="2.6"/>
<path d="M557.4 1637.5C568.58 1638.92 600.72 1643 624.5 1646C648.28 1649 678.05 1652.5 700.1 1655.5C722.15 1658.5 741.05 1661.17 756.8 1664C772.55 1666.83 785.73 1670.3 794.6 1672.5C803.47 1674.7 801.28 1673.82 810 1677.2C818.72 1680.58 836.5 1687.37 846.9 1692.8C857.3 1698.23 864.85 1703.65 872.4 1709.8C879.95 1715.95 886.53 1722.13 892.2 1729.7C897.87 1737.27 902.62 1746.23 906.4 1755.2C910.18 1764.17 913.02 1774.9 914.9 1783.5C916.78 1792.1 917.23 1802.92 917.7 1806.8" fill="none" stroke="#de5c20" stroke-width="2.6"/>
<path d="M557.4 1657.4C568.58 1659.43 603.87 1665.67 624.5 1669.6C645.13 1673.53 662.3 1676.73 681.2 1681C700.1 1685.27 722.15 1690.48 737.9 1695.2C753.65 1699.92 764.67 1704.42 775.7 1709.3C786.73 1714.18 796.22 1719.13 804.1 1724.5C811.98 1729.87 817.85 1735.58 823 1741.5C828.15 1747.42 831.33 1752.75 835 1760C838.67 1767.25 842 1775.83 845 1785C848 1794.17 850.8 1804.62 853 1815C855.2 1825.38 857.33 1841.92 858.2 1847.3" fill="none" stroke="#de5c20" stroke-width="2.6"/>
<path d="M557.4 1693.3C561.83 1694.47 575.07 1697.98 584 1700.3C592.93 1702.62 601.63 1704.82 611 1707.2C620.37 1709.58 631.3 1712.3 640.2 1714.6C649.1 1716.9 657.13 1718.87 664.4 1721C671.67 1723.13 676.75 1724.8 683.8 1727.4C690.85 1730 700.1 1733.3 706.7 1736.6C713.3 1739.9 718.32 1742.93 723.4 1747.2C728.48 1751.47 733.1 1756.33 737.2 1762.2C741.3 1768.07 745.03 1775.33 748 1782.4C750.97 1789.47 753.17 1796.83 755 1804.6C756.83 1812.37 758.13 1821.88 759 1829C759.87 1836.12 760 1844.25 760.2 1847.3" fill="none" stroke="#de5c20" stroke-width="2.6"/>
<path d="M760.2 1847.3H858.2L917.7 1806.8H1040.2L1092.7 1773.6H1149.4" fill="none" stroke="#de5c20" stroke-width="1.1"/>
<text x="743.6" y="1874.8" font-size="22" fill="#2f9fd6" textLength="61.5" lengthAdjust="spacing">15.0A</text>
<text x="846.3" y="1874.8" font-size="22" fill="#2f9fd6" textLength="49" lengthAdjust="spacing">5.0A</text>
<text x="886" y="1846.3" font-size="22" fill="#2f9fd6" textLength="62.9" lengthAdjust="spacing">2.75A</text>
<text x="967.4" y="1835.8" font-size="22" fill="#2f9fd6" textLength="60.3" lengthAdjust="spacing">1.25A</text>
<text x="1011.9" y="1854.8" font-size="22" fill="#2f9fd6" textLength="62.3" lengthAdjust="spacing">0.85A</text>
<text x="1066.6" y="1804.8" font-size="22" fill="#2f9fd6" textLength="52.4" lengthAdjust="spacing">050A</text>
<text x="1144.6" y="1804.8" font-size="22" fill="#2f9fd6" textLength="60.9" lengthAdjust="spacing">0.25A</text>
<text x="550.8" y="1955.6" font-size="17.5" fill="#333" text-anchor="middle" letter-spacing="0.6">0.6</text>
<text x="616.8" y="1955.6" font-size="17.5" fill="#333" text-anchor="middle" letter-spacing="0.6">1.2</text>
<text x="682.6" y="1955.6" font-size="17.5" fill="#333" text-anchor="middle">3</text>
<text x="736.6" y="1955.6" font-size="17.5" fill="#333" text-anchor="middle">6</text>
<text x="791.1" y="1955.6" font-size="17.5" fill="#333" text-anchor="middle" letter-spacing="0.6">12</text>
<text x="860.3" y="1955.6" font-size="17.5" fill="#333" text-anchor="middle" letter-spacing="0.6">30</text>
<text x="916.4" y="1955.6" font-size="17.5" fill="#333" text-anchor="middle">1</text>
<text x="996.4" y="1955.6" font-size="17.5" fill="#333" text-anchor="middle">3</text>
<text x="1045.8" y="1954.6" font-size="17.5" fill="#333" text-anchor="middle">5</text>
<text x="1093.6" y="1955.6" font-size="17.5" fill="#333" text-anchor="middle" letter-spacing="0.6">10</text>
<text x="1150.2" y="1955.6" font-size="17.5" fill="#333" text-anchor="middle" letter-spacing="0.6">20</text>
<text x="1223.5" y="1955.6" font-size="17.5" fill="#333" text-anchor="middle" letter-spacing="0.6">24</text>
<line x1="557.8" y1="1965.6" x2="557.8" y2="2002.4" stroke="#666" stroke-width="1.4"/>
<line x1="913.6" y1="1974.9" x2="913.6" y2="2001.2" stroke="#666" stroke-width="1.4"/>
<line x1="1230.5" y1="1964.1" x2="1230.5" y2="2002.4" stroke="#666" stroke-width="1.4"/>
<line x1="579" y1="1987" x2="891" y2="1987" stroke="#666" stroke-width="1.5"/>
<line x1="937" y1="1987" x2="1209" y2="1987" stroke="#666" stroke-width="1.5"/>
<path d="M558.8 1987L580 1976.6L580 1997.4Z" fill="#1a1a1a"/>
<path d="M912 1987L890.2 1976.6L890.2 1997.4Z" fill="#1a1a1a"/>
<path d="M915.4 1987L937.6 1976.6L937.6 1997.4Z" fill="#1a1a1a"/>
<path d="M1229.6 1987L1208.4 1976.6L1208.4 1997.4Z" fill="#1a1a1a"/>
<text class="cjs" x="653" y="1983" font-size="21" fill="#333" font-weight="500" letter-spacing="3.5">分钟</text>
<text x="706.1" y="1983" font-size="21" fill="#333" textLength="75.1" lengthAdjust="spacing">Minute</text>
<text class="cjs" x="999.4" y="1983" font-size="21" fill="#333" font-weight="500" letter-spacing="2.6">小时</text>
<text x="1050.4" y="1983" font-size="21" fill="#333" textLength="51.6" lengthAdjust="spacing">Hour</text>
<text class="cjs" x="739.4" y="2024" font-size="20.5" fill="#333" font-weight="500" letter-spacing="4">放电时间</text>
<text x="838.4" y="2024.6" font-size="18" fill="#2a2a2a" textLength="202.7" lengthAdjust="spacingAndGlyphs" stroke="#2a2a2a" stroke-width="0.3">Discharging Time</text>
</g>
</svg>
</body></html>
